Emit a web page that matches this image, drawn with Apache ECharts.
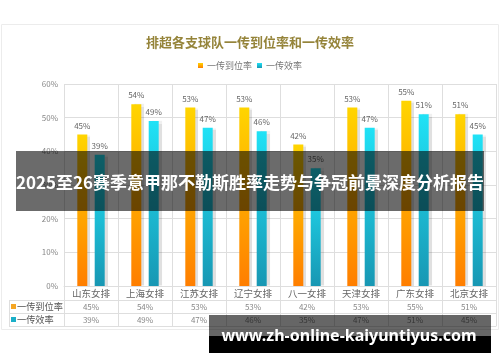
<!DOCTYPE html>
<html><head><meta charset="utf-8">
<script src="https://cdn.jsdelivr.net/npm/echarts@6/dist/echarts.min.js"></script>
<style>html,body{margin:0;padding:0;background:#fff}#c{width:500px;height:362px}</style>
</head><body><div id="c"></div>
<script>
var categories = ['山东女排','上海女排','江苏女排','辽宁女排','八一女排','天津女排','广东女排','北京女排'];
var passRate = [45,54,53,53,42,53,55,51];
var passEff = [39,49,47,46,35,47,51,45];
var seriesNames = ['一传到位率','一传效率'];
var yTicks = [0,10,20,30,40,50,60];
var titleText = '排超各支球队一传到位率和一传效率';
var bannerText = '2025至26赛季意甲那不勒斯胜率走势与争冠前景深度分析报告';
var urlText = 'www.zh-online-kaiyuntiyus.com';

var FONT = '"Noto Sans CJK SC", "Noto Sans", sans-serif';
var chart = echarts.init(document.getElementById('c'), null, {renderer:'canvas'});
var orangeGrad = new echarts.graphic.LinearGradient(0,0,0,1,[{offset:0,color:'#FFD500'},{offset:1,color:'#FF7E00'}]);
var cyanGrad = new echarts.graphic.LinearGradient(0,0,0,1,[{offset:0,color:'#20E2F6'},{offset:1,color:'#1897B3'}]);
var lineCol = '#dedede';
function valAxis(offset, arr, showLabel){
  return {type:'category', data:categories, position:'bottom', offset:offset, gridIndex:0,
    axisLine:{show:true, lineStyle:{color:lineCol}}, axisTick:{show:false}, splitLine:{show:false},
    axisLabel:{show:showLabel, margin:3, fontSize:8, color:'#888', fontFamily:FONT,
      formatter:function(v,i){return arr ? arr[i]+'%' : '';}}};
}
chart.setOption({
  animation:false,
  textStyle:{fontFamily:FONT},
  title:{text:titleText, left:'center', top:31, textStyle:{fontSize:13, fontWeight:'bold', color:'#95843A', fontFamily:FONT}},
  legend:{top:56, left:'center', itemWidth:5, itemHeight:5, itemGap:5, icon:'rect',
    textStyle:{fontSize:9, color:'#777', fontFamily:FONT, padding:[0,0,0,-1]}, data:seriesNames},
  grid:{left:64, right:4, top:84, bottom:76, containLabel:false},
  xAxis:[
    {type:'category', data:categories, position:'bottom',
      axisLine:{show:true, lineStyle:{color:lineCol}},
      axisTick:{show:true, length:40, lineStyle:{color:lineCol}},
      splitLine:{show:true, lineStyle:{color:lineCol}},
      axisLabel:{margin:3, fontSize:9.5, color:'#666', fontFamily:FONT}},
    valAxis(14, passRate, true),
    valAxis(27, passEff, true),
    valAxis(40, null, false)
  ],
  yAxis:{type:'value', min:0, max:60, interval:10,
    axisLine:{show:false}, axisTick:{show:false},
    splitLine:{show:true, lineStyle:{color:lineCol}},
    axisLabel:{fontSize:8, color:'#888', margin:6, formatter:function(v){return yTicks.indexOf(v)>=0 ? v+'%' : '';}}},
  series:[
    {name:seriesNames[0], type:'bar', data:passRate, barWidth:10, barGap:'74%',
      itemStyle:{color:orangeGrad, shadowColor:'rgba(0,0,0,0.12)', shadowOffsetX:3, shadowBlur:1},
      label:{show:true, position:'top', distance:5, fontSize:8, color:'#666', formatter:'{c}%'}},
    {name:seriesNames[1], type:'bar', data:passEff, barWidth:10,
      itemStyle:{color:cyanGrad, shadowColor:'rgba(0,0,0,0.12)', shadowOffsetX:3, shadowBlur:1},
      label:{show:true, position:'top', distance:5, fontSize:8, color:'#666', formatter:'{c}%'}}
  ],
  graphic:[
    {type:'rect', shape:{x:1.5,y:24.5,width:497,height:305}, style:{fill:'none', stroke:'#ececec', lineWidth:1}, z:-1},
    {type:'line', shape:{x1:9,y1:300.5,x2:64,y2:300.5}, style:{stroke:lineCol}},
    {type:'line', shape:{x1:9,y1:313.5,x2:64,y2:313.5}, style:{stroke:lineCol}},
    {type:'line', shape:{x1:9,y1:326.5,x2:64,y2:326.5}, style:{stroke:lineCol}},
    {type:'line', shape:{x1:9.5,y1:300,x2:9.5,y2:326}, style:{stroke:lineCol}},
    {type:'rect', shape:{x:11,y:304,width:5,height:5}, style:{fill:'#F5A623'}},
    {type:'text', style:{x:17, y:306.5, text:seriesNames[0], fontSize:9.2, fill:'#555', fontFamily:FONT, verticalAlign:'middle'}},
    {type:'rect', shape:{x:11,y:317,width:5,height:5}, style:{fill:'#1AAFC8'}},
    {type:'text', style:{x:17, y:319.5, text:seriesNames[1], fontSize:9.2, fill:'#555', fontFamily:FONT, verticalAlign:'middle'}},
    {type:'rect', shape:{x:16,y:151,width:468,height:60}, style:{fill:'rgba(0,0,0,0.58)'}, z:100},
    {type:'text', style:{x:250, y:183, text:bannerText, fontSize:17, fontWeight:'bold', fill:'#fff', fontFamily:FONT, align:'center', verticalAlign:'middle'}, z:101},
    {type:'rect', shape:{x:209,y:315,width:282,height:21}, style:{fill:'rgba(0,0,0,0.6)'}, z:100},
    {type:'rect', shape:{x:209,y:336,width:282,height:17}, style:{fill:'#000'}, z:100},
    {type:'text', style:{x:349, y:336, text:urlText, fontSize:16, fontWeight:'bold', fill:'#fff', fontFamily:'"Noto Sans", "Open Sans", sans-serif', align:'center', verticalAlign:'middle'}, z:101}
  ]
});
</script></body></html>
